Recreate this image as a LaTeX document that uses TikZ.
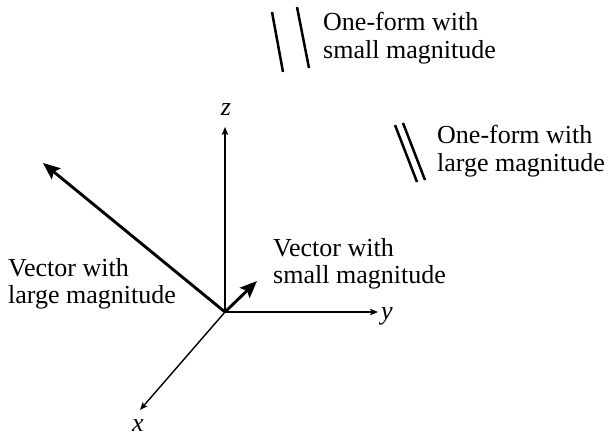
\documentclass[tikz,border=0pt]{standalone}
\usepackage{fontspec}
\setmainfont{Liberation Serif}
\usetikzlibrary{arrows.meta, positioning}

\begin{document}
\begin{tikzpicture}[
  x=1pt, y=-1pt,
  every node/.style={font=\fontsize{26}{27.5}\selectfont},
  caption/.style={align=left, inner sep=0pt, anchor=north west},
  axlabel/.style={inner sep=0pt, anchor=base, font=\fontsize{26}{27.5}\selectfont\itshape},
  axis/.style={-{Stealth[length=8pt, width=6.5pt, inset=2pt]}, line width=1.4pt},
  vec/.style={-{Stealth[length=17pt, width=14pt, inset=3pt]}, line width=2.9pt},
  form/.style={line width=2.5pt},
]
  \useasboundingbox (0,0) rectangle (608,437);

  % axes
  \coordinate (o) at (225,312);
  \coordinate (ztip) at (225,127);
  \coordinate (ytip) at (378,312);
  \coordinate (xtip) at (140,410);
  \draw[axis] (o) -- (ztip);
  \draw[axis] (o) -- (ytip);
  \draw[axis] (o) -- (xtip);
  \node[axlabel] (zlab) at (226,115) {z};
  \node[axlabel, anchor=base west] (ylab) at (381,319) {y};
  \node[axlabel] (xlab) at (138,431) {x};

  % vectors
  \coordinate (bigtip) at (43,163);
  \coordinate (smalltip) at (257,281);
  \draw[vec] (o) -- (bigtip);
  \draw[vec] (o) -- (smalltip);
  \node[caption] (biglab) at (8,258) {Vector with\\large magnitude};
  \node[caption] (smalllab) at (273,238) {Vector with\\small magnitude};

  % one-forms
  \draw[form] (272,12) -- (283,72);
  \draw[form] (297,7) -- (309,68);
  \node[caption] (smallform) at (323,12) {One-form with\\small magnitude};
  \draw[form] (395,125) -- (417,182);
  \draw[form] (403,123) -- (425,180);
  \node[caption] (bigform) at (437,125) {One-form with\\large magnitude};
\end{tikzpicture}
\end{document}
